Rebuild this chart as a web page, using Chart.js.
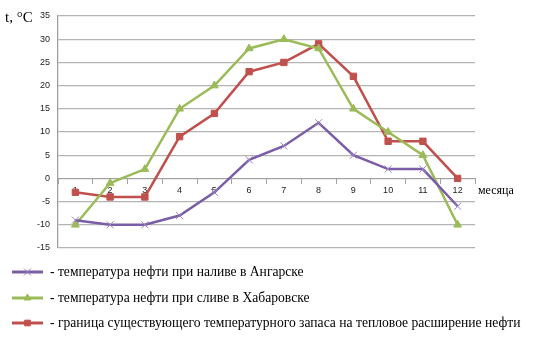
<!DOCTYPE html>
<html><head><meta charset="utf-8">
<script src="https://cdn.jsdelivr.net/npm/chart.js@4"></script>
<style>html,body{margin:0;padding:0;background:#fff}#wrap{width:537px;height:339px;position:relative}</style>
</head><body><div id="wrap"><canvas id="c" width="537" height="339"></canvas></div>
<script>
const months = ['1','2','3','4','5','6','7','8','9','10','11','12'];
const angarsk = [-9,-10,-10,-8,-3,4,7,12,5,2,2,-6];
const khabarovsk = [-10,-1,2,15,20,28,30,28,15,10,5,-10];
const boundary = [-3,-4,-4,9,14,23,25,29,22,8,8,0];
const yTicks = {min:-15, max:35, step:5};
const legendLabels = [
  '- температура нефти при наливе в Ангарске',
  '- температура нефти при сливе в Хабаровске',
  '- граница существующего температурного запаса на тепловое расширение нефти'
];
const yTitle = 't, °C';
const xTitle = 'месяца';

const cPurple = '#7B5CA6', cGreen = '#9BBB59', cRed = '#C0504D';

const extras = {
  id:'extras',
  afterDraw(chart){
    const ctx = chart.ctx, a = chart.chartArea, y = chart.scales.y;
    ctx.save();
    ctx.fillStyle = '#000';
    ctx.font = '15px "Liberation Serif"';
    ctx.textBaseline = 'middle';
    ctx.textAlign = 'left';
    ctx.fillText(yTitle, 5, 18);
    ctx.font = '12px "Liberation Serif"';
    ctx.fillText(xTitle, a.right + 3, y.getPixelForValue(0) + 12);
    // legend
    const rows = [272, 298, 323];
    chart.data.datasets.forEach((ds, i) => {
      const ry = rows[i];
      ctx.strokeStyle = ds.borderColor;
      ctx.lineWidth = 3;
      ctx.beginPath(); ctx.moveTo(12, ry); ctx.lineTo(43, ry); ctx.stroke();
      const r = ds.pointStyle === 'crossRot' ? 5 : 4;
      ctx.fillStyle = ds.pointBackgroundColor;
      ctx.strokeStyle = ds.pointBorderColor;
      ctx.lineWidth = ds.pointBorderWidth;
      Chart.helpers.drawPoint(ctx, {pointStyle: ds.pointStyle, radius: r, rotation:0, borderWidth: ds.pointBorderWidth}, 27.5, ry);
      ctx.fillStyle = '#000';
      ctx.font = '13.6px "Liberation Serif"';
      ctx.textBaseline = 'middle';
      ctx.fillText(legendLabels[i], 50, ry);
    });
    ctx.restore();
  }
};

new Chart(document.getElementById('c'), {
  type:'line',
  data:{
    labels: months,
    datasets:[
      {data: angarsk, borderColor:cPurple, borderWidth:2.5, pointStyle:'crossRot', pointRadius:5, pointBorderWidth:1, pointBorderColor:'#9B85C0', pointBackgroundColor:'#9B85C0', tension:0},
      {data: khabarovsk, borderColor:cGreen, borderWidth:2.5, pointStyle:'triangle', pointRadius:4.5, pointBorderWidth:1, pointBorderColor:cGreen, pointBackgroundColor:cGreen, tension:0},
      {data: boundary, borderColor:cRed, borderWidth:2.5, pointStyle:'rect', pointRadius:4.5, pointBorderWidth:1, pointBorderColor:cRed, pointBackgroundColor:cRed, tension:0}
    ]
  },
  options:{
    responsive:false, animation:false,
    layout:{padding:{top:16, bottom:91, right:62, left:0}},
    plugins:{legend:{display:false}, tooltip:{enabled:false}},
    scales:{
      x:{
        position:{y:0}, offset:true,
        grid:{drawOnChartArea:false, drawTicks:true, tickLength:5, offset:true, color:'#A0A0A0'},
        border:{color:'#A0A0A0', width:1},
        ticks:{font:{family:'Liberation Sans', size:9}, color:'#222', padding:2, maxRotation:0}
      },
      y:{
        min:yTicks.min, max:yTicks.max,
        grid:{color:'#B4B4B4', lineWidth:1.3, drawTicks:false},
        border:{color:'#A0A0A0', width:1.3},
        ticks:{stepSize:yTicks.step, font:{family:'Liberation Sans', size:9}, color:'#222', padding:8},
        afterFit(s){ s.width = 58; }
      }
    }
  },
  plugins:[extras]
});
</script></body></html>
